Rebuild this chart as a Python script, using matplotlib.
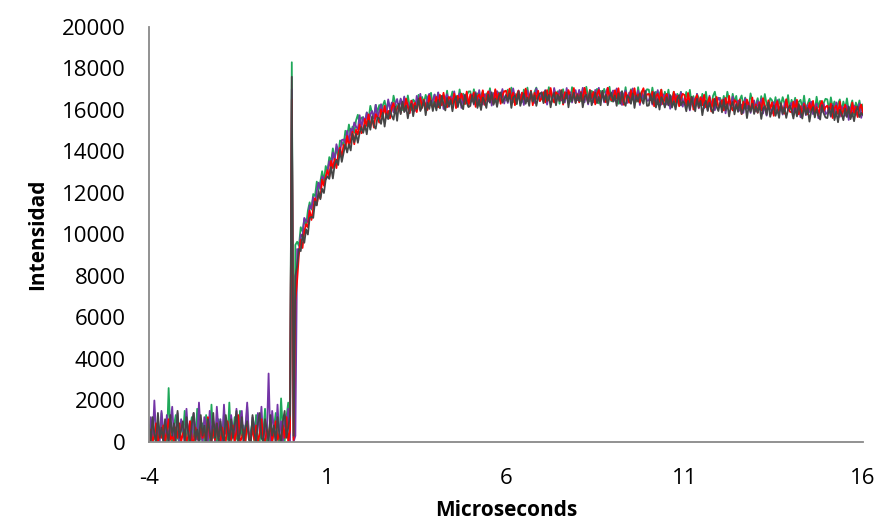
#!/usr/bin/env python

import numpy as np
import matplotlib
matplotlib.use('Agg')
import matplotlib.pyplot as plt

# one sample every 0.05 microseconds, from -4 to 16
t_start, t_stop, t_step = -4.0, 16.0, 0.05

green = [
    0, 600, 1100, 200, 0, 900, 300, 1400, 100, 500, 0, 2600, 400, 0, 800, 1300, 200, 0, 1000, 300,
    1500, 100, 0, 700, 1200, 300, 0, 1600, 400, 100, 900, 0, 1300, 500, 0, 1800, 200, 700, 0, 1100,
    300, 0, 1400, 600, 100, 1900, 0, 400, 1200, 200, 0, 1500, 300, 800, 0, 1700, 100, 500, 1000, 0,
    1300, 200, 0, 900, 400, 1600, 0, 300, 1100, 0, 700, 1400, 200, 0, 2100, 500, 0, 1200, 1900, 400,
    18300, 200, 9500, 9650, 9450, 10350, 10150, 10750, 10400, 11150, 11550, 11200, 11950, 11850, 12550, 12150, 12550, 13050, 12550, 13300,
    13050, 13730, 13500, 14150, 13600, 14150, 13800, 14530, 14450, 14280, 15000, 14700, 15300, 14800, 15200, 14900, 15500, 15770, 15350, 15630,
    15650, 15320, 15880, 15540, 16200, 15850, 15600, 16250, 15900, 16240, 15680, 16220, 16450, 15980, 16410, 16140, 15960, 16690, 16310, 16130,
    16200, 16500, 16000, 16600, 16100, 16700, 16200, 16000, 16500, 16400, 16230, 16730, 16030, 16630, 16330, 16730, 16430, 16230, 16830, 16130,
    16730, 16430, 16830, 16130, 16630, 16730, 16330, 16930, 16230, 16530, 16890, 16390, 16690, 16290, 16990, 16490, 16790, 16290, 16690, 16890,
    16900, 16400, 17000, 16500, 16800, 16200, 16700, 16900, 16300, 16800, 16550, 17050, 16450, 16650, 16950, 16250, 16850, 16550, 16950, 16450,
    16480, 16980, 16580, 17080, 16380, 16780, 16280, 16880, 16680, 16380, 16980, 16580, 17080, 16480, 16780, 16380, 16880, 17080, 16580, 16780,
    16800, 16400, 16900, 16500, 17100, 16700, 16400, 17000, 16600, 16900, 16300, 16800, 17000, 16500, 16900, 16600, 16400, 17100, 16700, 16500,
    16620, 16920, 16420, 17020, 16520, 17120, 16620, 16420, 16920, 16820, 16520, 17020, 16320, 16920, 16620, 17020, 16720, 16520, 17120, 16420,
    16900, 16600, 17000, 16300, 16800, 16900, 16500, 17100, 16400, 16700, 17000, 16500, 16800, 16400, 17100, 16600, 16900, 16400, 16800, 17000,
    16980, 16480, 17080, 16580, 16880, 16280, 16780, 16980, 16380, 16880, 16480, 16980, 16380, 16580, 16880, 16180, 16780, 16480, 16880, 16380,
    16370, 16870, 16470, 16970, 16270, 16670, 16170, 16770, 16570, 16270, 16780, 16380, 16880, 16280, 16580, 16180, 16680, 16880, 16380, 16580,
    16580, 16180, 16680, 16280, 16880, 16480, 16180, 16780, 16380, 16680, 16000, 16500, 16700, 16200, 16600, 16300, 16100, 16800, 16400, 16200,
    16270, 16570, 16070, 16670, 16170, 16770, 16270, 16070, 16570, 16470, 16120, 16620, 15920, 16520, 16220, 16620, 16320, 16120, 16720, 16020,
    16490, 16190, 16590, 15890, 16390, 16490, 16090, 16690, 15990, 16290, 16540, 16040, 16340, 15940, 16640, 16140, 16440, 15940, 16340, 16540,
    16510, 16010, 16610, 16110, 16410, 15810, 16310, 16510, 15910, 16410, 16060, 16560, 15960, 16160, 16460, 15760, 16360, 16060, 16460, 15960,
    16260,
]

purple = [
    400, 1200, 0, 2000, 300, 800, 0, 1500, 600, 100, 1300, 0, 900, 1700, 200, 500, 1400, 0, 1100, 600,
    0, 1600, 300, 1000, 0, 1400, 700, 100, 1900, 400, 0, 1200, 800, 0, 1500, 300, 1000, 0, 1700, 500,
    1100, 0, 1800, 400, 900, 0, 1300, 600, 0, 1600, 200, 1000, 1500, 0, 700, 1900, 300, 0, 1200, 800,
    0, 1400, 500, 1700, 0, 900, 200, 3300, 0, 1500, 600, 0, 1800, 300, 1000, 0, 1300, 400, 1600, 0,
    17000, 0, 300, 9300, 9200, 10000, 9900, 10800, 10650, 10600, 11400, 11250, 11800, 11400, 12100, 12500, 12200, 12800, 12700, 12650,
    13050, 13530, 13200, 13950, 13600, 14350, 14000, 13930, 14550, 14580, 14400, 15000, 14400, 15100, 14900, 15400, 15200, 15070, 15750, 15130,
    15650, 15420, 15880, 15240, 15800, 15950, 15600, 16250, 15600, 15940, 16280, 15820, 16150, 15780, 16510, 16040, 16360, 15885, 16310, 16530,
    16050, 16550, 16150, 16650, 15950, 16350, 15850, 16450, 16250, 15950, 16680, 16280, 16780, 16180, 16480, 16080, 16580, 16780, 16280, 16480,
    16750, 16250, 16850, 16350, 16650, 16050, 16550, 16750, 16150, 16650, 16400, 16900, 16300, 16500, 16800, 16100, 16700, 16400, 16800, 16300,
    16460, 16760, 16260, 16860, 16360, 16960, 16460, 16260, 16760, 16660, 16410, 16910, 16210, 16810, 16510, 16910, 16610, 16410, 17010, 16310,
    16740, 16340, 16840, 16440, 17040, 16640, 16340, 16940, 16540, 16840, 16240, 16740, 16940, 16440, 16840, 16540, 16340, 17040, 16640, 16440,
    16860, 16560, 16960, 16260, 16760, 16860, 16460, 17060, 16360, 16660, 16960, 16460, 16760, 16360, 17060, 16560, 16860, 16360, 16760, 16960,
    16470, 16970, 16570, 17070, 16370, 16770, 16270, 16870, 16670, 16370, 16970, 16570, 17070, 16470, 16770, 16370, 16870, 17070, 16570, 16770,
    16940, 16440, 17040, 16540, 16840, 16240, 16740, 16940, 16340, 16840, 16540, 17040, 16440, 16640, 16940, 16240, 16840, 16540, 16940, 16440,
    16460, 16760, 16260, 16860, 16360, 16960, 16460, 16260, 16760, 16660, 16260, 16760, 16060, 16660, 16360, 16760, 16460, 16260, 16860, 16160,
    16580, 16280, 16680, 15980, 16480, 16580, 16180, 16780, 16080, 16380, 16590, 16090, 16390, 15990, 16690, 16190, 16490, 15990, 16390, 16590,
    16440, 16140, 16540, 15840, 16340, 16440, 16040, 16640, 15940, 16240, 16460, 15960, 16260, 15860, 16560, 16060, 16360, 15860, 16260, 16460,
    15930, 16430, 16030, 16530, 15830, 16230, 15730, 16330, 16130, 15830, 16380, 15980, 16480, 15880, 16180, 15780, 16280, 16480, 15980, 16180,
    16350, 15850, 16450, 15950, 16250, 15650, 16150, 16350, 15750, 16250, 15900, 16400, 15800, 16000, 16300, 15600, 16200, 15900, 16300, 15800,
    15870, 16170, 15670, 16270, 15770, 16370, 15870, 15670, 16170, 16070, 15720, 16220, 15520, 16120, 15820, 16220, 15920, 15720, 16320, 15620,
    16020,
]

red = [
    100, 600, 0, 300, 900, 0, 400, 200, 800, 0, 500, 1100, 100, 300, 0, 700, 200, 900, 0, 400,
    600, 0, 300, 1000, 100, 0, 700, 400, 0, 800, 200, 500, 0, 1200, 300, 0, 600, 100, 900, 200,
    0, 700, 300, 0, 1000, 400, 100, 800, 0, 500, 1300, 0, 200, 600, 0, 900, 300, 0, 700, 100,
    800, 0, 400, 1100, 200, 0, 600, 300, 900, 0, 500, 1000, 100, 400, 0, 800, 200, 1200, 0, 600,
    16500, 100, 6800, 7800, 9050, 9750, 9350, 10150, 10500, 10350, 11150, 10700, 11250, 11750, 11450, 11950, 11750, 12650, 12350, 12800,
    13100, 12780, 13550, 13200, 13650, 13200, 13850, 14180, 13700, 14330, 14150, 14750, 14250, 14550, 14950, 14350, 15050, 14820, 15300, 14880,
    15000, 15570, 15230, 15790, 15150, 15600, 15150, 15800, 15650, 15390, 16030, 15670, 16200, 15630, 15960, 15590, 16110, 16335, 15860, 16080,
    16250, 15850, 16350, 15950, 16550, 16150, 15850, 16450, 16050, 16350, 15900, 16400, 16600, 16100, 16500, 16200, 16000, 16700, 16300, 16100,
    16330, 16630, 16130, 16730, 16230, 16830, 16330, 16130, 16630, 16530, 16290, 16790, 16090, 16690, 16390, 16790, 16490, 16290, 16890, 16190,
    16750, 16450, 16850, 16150, 16650, 16750, 16350, 16950, 16250, 16550, 16900, 16400, 16700, 16300, 17000, 16500, 16800, 16300, 16700, 16900,
    16930, 16430, 17030, 16530, 16830, 16230, 16730, 16930, 16330, 16830, 16530, 17030, 16430, 16630, 16930, 16230, 16830, 16530, 16930, 16430,
    16560, 16860, 16360, 16960, 16460, 17060, 16560, 16360, 16860, 16760, 16460, 16960, 16260, 16860, 16560, 16960, 16660, 16460, 17060, 16360,
    16770, 16370, 16870, 16470, 17070, 16670, 16370, 16970, 16570, 16870, 16270, 16770, 16970, 16470, 16870, 16570, 16370, 17070, 16670, 16470,
    16450, 16950, 16550, 17050, 16350, 16750, 16250, 16850, 16650, 16350, 16950, 16550, 17050, 16450, 16750, 16350, 16850, 17050, 16550, 16750,
    16780, 16480, 16880, 16180, 16680, 16780, 16380, 16980, 16280, 16580, 16780, 16280, 16580, 16180, 16880, 16380, 16680, 16180, 16580, 16780,
    16720, 16220, 16820, 16320, 16620, 16020, 16520, 16720, 16120, 16620, 16230, 16730, 16130, 16330, 16630, 15930, 16530, 16230, 16630, 16130,
    16180, 16480, 15980, 16580, 16080, 16680, 16180, 15980, 16480, 16380, 16000, 16500, 15800, 16400, 16100, 16500, 16200, 16000, 16600, 15900,
    16270, 15870, 16370, 15970, 16570, 16170, 15870, 16470, 16070, 16370, 15720, 16220, 16420, 15920, 16320, 16020, 15820, 16520, 16120, 15920,
    15890, 16390, 15990, 16490, 15790, 16190, 15690, 16290, 16090, 15790, 16340, 15940, 16440, 15840, 16140, 15740, 16240, 16440, 15940, 16140,
    16210, 15910, 16310, 15610, 16110, 16210, 15810, 16410, 15710, 16010, 16260, 15760, 16060, 15660, 16360, 15860, 16160, 15660, 16060, 16260,
    15860,
]

gray = [
    800, 0, 1200, 400, 0, 1400, 200, 700, 0, 1100, 500, 0, 1300, 300, 900, 0, 1500, 200, 600, 1000,
    0, 1200, 400, 0, 900, 1400, 100, 600, 0, 1300, 300, 800, 0, 1100, 500, 0, 1400, 200, 900, 0,
    1000, 300, 0, 1300, 600, 0, 1100, 200, 800, 1500, 0, 400, 1200, 0, 700, 1000, 100, 0, 1300, 500,
    0, 900, 1400, 200, 0, 1100, 600, 0, 1300, 300, 800, 0, 1200, 400, 0, 1000, 1500, 200, 700, 1300,
    17600, 300, 8000, 8500, 9300, 9200, 10000, 9600, 10250, 10000, 10800, 10850, 10800, 11600, 11400, 12100, 11700, 12200, 12000, 12650,
    12800, 12680, 13250, 12700, 13350, 13600, 13350, 14080, 13500, 13930, 14350, 13950, 14350, 14050, 14850, 14450, 14850, 14420, 14900, 15180,
    14900, 15270, 14830, 15490, 15050, 15700, 15250, 15100, 15650, 15590, 15330, 15870, 15200, 15830, 15560, 15990, 15710, 15535, 16160, 15480,
    16300, 15800, 16400, 15900, 16200, 15600, 16100, 16300, 15700, 16200, 16050, 16550, 15950, 16150, 16450, 15750, 16350, 16050, 16450, 15950,
    16380, 15980, 16480, 16080, 16680, 16280, 15980, 16580, 16180, 16480, 15940, 16440, 16640, 16140, 16540, 16240, 16040, 16740, 16340, 16140,
    16200, 16700, 16300, 16800, 16100, 16500, 16000, 16600, 16400, 16100, 16750, 16350, 16850, 16250, 16550, 16150, 16650, 16850, 16350, 16550,
    16700, 16400, 16800, 16100, 16600, 16700, 16300, 16900, 16200, 16500, 16800, 16300, 16600, 16200, 16900, 16400, 16700, 16200, 16600, 16800,
    16830, 16330, 16930, 16430, 16730, 16130, 16630, 16830, 16230, 16730, 16430, 16930, 16330, 16530, 16830, 16130, 16730, 16430, 16830, 16330,
    16730, 16430, 16830, 16130, 16630, 16730, 16330, 16930, 16230, 16530, 16830, 16330, 16630, 16230, 16930, 16430, 16730, 16230, 16630, 16830,
    16400, 16700, 16200, 16800, 16300, 16900, 16400, 16200, 16700, 16600, 16300, 16800, 16100, 16700, 16400, 16800, 16500, 16300, 16900, 16200,
    16220, 16720, 16320, 16820, 16120, 16520, 16020, 16620, 16420, 16120, 16620, 16220, 16720, 16120, 16420, 16020, 16520, 16720, 16220, 16420,
    16340, 15940, 16440, 16040, 16640, 16240, 15940, 16540, 16140, 16440, 15750, 16250, 16450, 15950, 16350, 16050, 15850, 16550, 16150, 15950,
    16390, 15890, 16490, 15990, 16290, 15690, 16190, 16390, 15790, 16290, 15910, 16410, 15810, 16010, 16310, 15610, 16210, 15910, 16310, 15810,
    16170, 15870, 16270, 15570, 16070, 16170, 15770, 16370, 15670, 15970, 16220, 15720, 16020, 15620, 16320, 15820, 16120, 15620, 16020, 16220,
    15990, 15590, 16090, 15690, 16290, 15890, 15590, 16190, 15790, 16090, 15440, 15940, 16140, 15640, 16040, 15740, 15540, 16240, 15840, 15640,
    15610, 16110, 15710, 16210, 15510, 15910, 15410, 16010, 15810, 15510, 16060, 15660, 16160, 15560, 15860, 15460, 15960, 16160, 15660, 15860,
    15760,
]

x_ticks = [-4, 1, 6, 11, 16]
y_ticks = list(range(0, 20001, 2000))

series = [
    (green, '#1fa85a'),
    (purple, '#7434a6'),
    (red, '#ff0000'),
    (gray, '#454545'),
]

plt.rcParams['font.family'] = ['Open Sans', 'DejaVu Sans']
plt.rcParams['axes.unicode_minus'] = False

fig = plt.figure(figsize=(8.81, 5.29), dpi=100)
ax = fig.add_axes([149 / 881, 1 - 442 / 529, 714 / 881, 415 / 529])

for values, color in series:
    t = t_start + t_step * np.arange(len(values))
    ax.plot(t, values, color=color, lw=1.3)

ax.set_xlim(t_start, t_stop)
ax.set_ylim(0, 20000)
ax.set_xticks(x_ticks)
ax.set_yticks(y_ticks)
ax.tick_params(axis='both', length=0, labelsize=16, colors='#000000')
ax.tick_params(axis='y', pad=17)
ax.tick_params(axis='x', pad=19)

for side in ['top', 'right']:
    ax.spines[side].set_visible(False)
for side in ['left', 'bottom']:
    ax.spines[side].set_color('#898989')
    ax.spines[side].set_linewidth(1.3)

ax.set_xlabel('Microseconds', fontsize=15, fontweight='bold', labelpad=8)
ax.set_ylabel('Intensidad', fontsize=15, fontweight='bold', labelpad=10)

fig.savefig('out.png', dpi=100)
